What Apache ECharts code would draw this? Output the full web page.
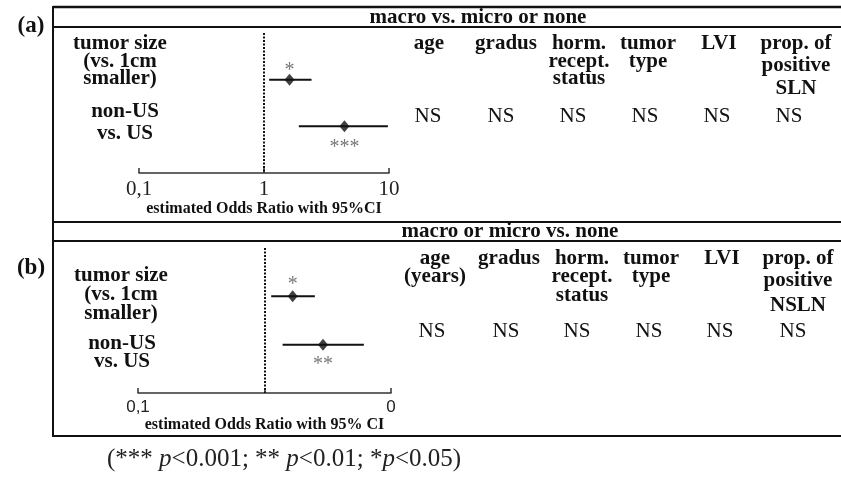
<!DOCTYPE html>
<html>
<head>
<meta charset="utf-8">
<script src="https://cdn.jsdelivr.net/npm/echarts@6/dist/echarts.min.js"></script>
<style>
html,body{margin:0;padding:0;background:#fff;}
#chart{width:841px;height:479px;}
</style>
</head>
<body>
<div id="chart"></div>
<script>
// ---------------- DATA ----------------
const categories = ['tumor size (vs. 1cm smaller)', 'non-US vs. US'];
const rowLabelLines = [['tumor size', '(vs. 1cm', 'smaller)'], ['non-US', 'vs. US']];

// panel (a): macro vs. micro or none
const oddsA = [1.6, 4.4];
const lowA = [1.1, 1.9];
const highA = [2.4, 9.8];
const sigA = ['*', '***'];

// panel (b): macro or micro vs. none
const oddsB = [1.67, 2.9];
const lowB = [1.13, 1.39];
const highB = [2.5, 6.1];
const sigB = ['*', '**'];

const tickValues = [0.1, 1, 10];
const tickLabelsA = ['0,1', '1', '10'];
const tickLabelsB = ['0,1', '', '0'];

const titleA = 'macro vs. micro or none';
const titleB = 'macro or micro vs. none';
const axisTitleA = 'estimated Odds Ratio with 95%CI';
const axisTitleB = 'estimated Odds Ratio with 95% CI';
const panelLabels = ['(a)', '(b)'];

const headersA = [['age'], ['gradus'], ['horm.', 'recept.', 'status'], ['tumor', 'type'], ['LVI'], ['prop. of', 'positive', 'SLN']];
const headersB = [['age', '(years)'], ['gradus'], ['horm.', 'recept.', 'status'], ['tumor', 'type'], ['LVI'], ['prop. of', 'positive', 'NSLN']];
const resultsA = ['NS', 'NS', 'NS', 'NS', 'NS', 'NS'];
const resultsB = ['NS', 'NS', 'NS', 'NS', 'NS', 'NS'];
const footnoteParts = ['(*** ', 'p', '<0.001; ** ', 'p', '<0.01; *', 'p', '<0.05)'];

// ---------------- LAYOUT ----------------
const SERIF = '"Liberation Serif","Times New Roman",serif';
const SANS = '"Liberation Sans",Arial,sans-serif';
const INK = '#111';
const layout = {
  a: {
    gridTop: 33, gridH: 140, gridLeft: 139, gridW: 250,
    titleY: 18, titleX: 478,
    rowLabel: [{x: 120, y: 44, lh: 17.5}, {x: 125, y: 112, lh: 22}],
    headerX: [429, 506, 579, 648, 719, 796],
    headerY: 44,
    headerLH: [[0], [0], [0, 17.5, 35], [0, 17.5], [0], [0, 22, 45]],
    nsX: [428, 501, 573, 645, 717, 789], nsY: 116,
    sigOffset: [-9, 21],
    panelLabel: {x: 31, y: 26},
    nameGap: 27
  },
  b: {
    gridTop: 248, gridH: 145, gridLeft: 138, gridW: 253,
    titleY: 232, titleX: 510,
    rowLabel: [{x: 121, y: 276, lh: 19}, {x: 122, y: 344, lh: 17.5}],
    headerX: [435, 509, 582, 651, 722, 798],
    headerY: 259,
    headerLH: [[0, 18], [0], [0, 17.5, 37], [0, 17.5], [0], [0, 22, 47]],
    nsX: [432, 506, 577, 649, 720, 793], nsY: 331,
    sigOffset: [-12, 20],
    panelLabel: {x: 31, y: 268},
    nameGap: 22
  }
};

// ---------------- BUILD ----------------
function tickFormatter(labels) {
  return function (v) {
    let best = 0, bd = Infinity;
    tickValues.forEach(function (t, i) {
      const d = Math.abs(Math.log10(v) - Math.log10(t));
      if (d < bd) { bd = d; best = i; }
    });
    return bd < 1e-6 ? labels[best] : '';
  };
}

function makeAxes(gi, L, labels, name, labelFont, labelSize) {
  return {
    x: {
      type: 'log', logBase: 10, min: 0.1, max: 10, gridIndex: gi,
      axisLine: {onZero: false, lineStyle: {color: '#333', width: 1.5}},
      axisTick: {show: true, inside: true, length: 5, lineStyle: {color: '#333', width: 1.5}},
      splitLine: {show: false}, minorTick: {show: false},
      axisLabel: {fontFamily: labelFont, fontSize: labelSize, color: '#222', margin: 6, formatter: tickFormatter(labels)},
      name: name, nameLocation: 'middle', nameGap: L.nameGap,
      nameTextStyle: {fontFamily: SERIF, fontWeight: 'bold', fontSize: 16, color: INK}
    },
    y: {type: 'value', min: 0, max: 3, inverse: true, show: false, gridIndex: gi}
  };
}

function forestSeries(gi, odds, low, high, sig, L) {
  const ciData = odds.map(function (o, i) { return [low[i], high[i], i + 1]; });
  const ptData = odds.map(function (o, i) {
    return {
      value: [o, i + 1],
      label: {show: true, position: 'inside', offset: [0, L.sigOffset[i]], formatter: sig[i],
        fontFamily: SERIF, fontSize: 20, color: '#555'}
    };
  });
  return [
    {
      type: 'custom', xAxisIndex: gi, yAxisIndex: gi, silent: true,
      data: ciData,
      renderItem: function (params, api) {
        const p1 = api.coord([api.value(0), api.value(2)]);
        const p2 = api.coord([api.value(1), api.value(2)]);
        return {type: 'line', shape: {x1: p1[0], y1: p1[1], x2: p2[0], y2: p2[1]},
          style: {stroke: INK, lineWidth: 2}};
      },
      z: 2
    },
    {
      type: 'scatter', xAxisIndex: gi, yAxisIndex: gi, silent: true,
      symbol: 'diamond', symbolSize: [10, 12],
      itemStyle: {color: INK},
      data: ptData,
      markLine: {
        silent: true, symbol: 'none', animation: false,
        label: {show: false},
        lineStyle: {type: [2, 1.5], color: INK, width: 2},
        data: [{xAxis: 1}]
      },
      z: 3
    }
  ];
}

const graphics = [];
function line(x1, y1, x2, y2, w) {
  graphics.push({type: 'line', shape: {x1: x1, y1: y1, x2: x2, y2: y2}, style: {stroke: INK, lineWidth: w || 2}, silent: true});
}
function text(t, x, y, opts) {
  graphics.push({
    type: 'text', silent: true,
    style: Object.assign({
      text: t, x: x, y: y, align: 'center', verticalAlign: 'middle',
      fontFamily: SERIF, fontSize: 21, fontWeight: 'bold', fill: INK
    }, opts || {})
  });
}

// frame lines
line(53, 7, 841, 7, 2.5);
line(53, 27, 841, 27, 2);
line(53, 222, 841, 222, 2);
line(53, 241, 841, 241, 2);
line(53, 436, 841, 436, 2);
line(53, 6, 53, 437, 2);

function panelTexts(L, title, headers, results, panelLabel) {
  text(panelLabel, L.panelLabel.x, L.panelLabel.y, {fontSize: 23});
  text(title, L.titleX, L.titleY, {fontSize: 21});
  rowLabelLines.forEach(function (lines, r) {
    const R = L.rowLabel[r];
    lines.forEach(function (s, k) { text(s, R.x, R.y + k * R.lh); });
  });
  headers.forEach(function (lines, c) {
    lines.forEach(function (s, k) { text(s, L.headerX[c], L.headerY + L.headerLH[c][k]); });
  });
  results.forEach(function (s, c) {
    text(s, L.nsX[c], L.nsY, {fontWeight: 'normal'});
  });
}
panelTexts(layout.a, titleA, headersA, resultsA, panelLabels[0]);
panelTexts(layout.b, titleB, headersB, resultsB, panelLabels[1]);

// footnote
graphics.push({
  type: 'text', silent: true,
  style: {
    text: footnoteParts.map(function (s, i) { return i % 2 === 1 ? '{i|' + s + '}' : s; }).join(''),
    x: 107, y: 459, align: 'left', verticalAlign: 'middle',
    fontFamily: SERIF, fontSize: 25, fill: '#222',
    rich: {i: {fontStyle: 'italic', fontFamily: SERIF, fontSize: 25, fill: '#222'}}
  }
});

const axA = makeAxes(0, layout.a, tickLabelsA, axisTitleA, SERIF, 21);
const axB = makeAxes(1, layout.b, tickLabelsB, axisTitleB, SANS, 17);

const option = {
  animation: false,
  backgroundColor: '#fff',
  grid: [
    {left: layout.a.gridLeft, width: layout.a.gridW, top: layout.a.gridTop, height: layout.a.gridH, outerBoundsMode: 'none', containLabel: false},
    {left: layout.b.gridLeft, width: layout.b.gridW, top: layout.b.gridTop, height: layout.b.gridH, outerBoundsMode: 'none', containLabel: false}
  ],
  xAxis: [axA.x, axB.x],
  yAxis: [axA.y, axB.y],
  series: forestSeries(0, oddsA, lowA, highA, sigA, layout.a)
    .concat(forestSeries(1, oddsB, lowB, highB, sigB, layout.b)),
  graphic: graphics
};

const chart = echarts.init(document.getElementById('chart'), null, {renderer: 'canvas'});
chart.setOption(option);
</script>
</body>
</html>
